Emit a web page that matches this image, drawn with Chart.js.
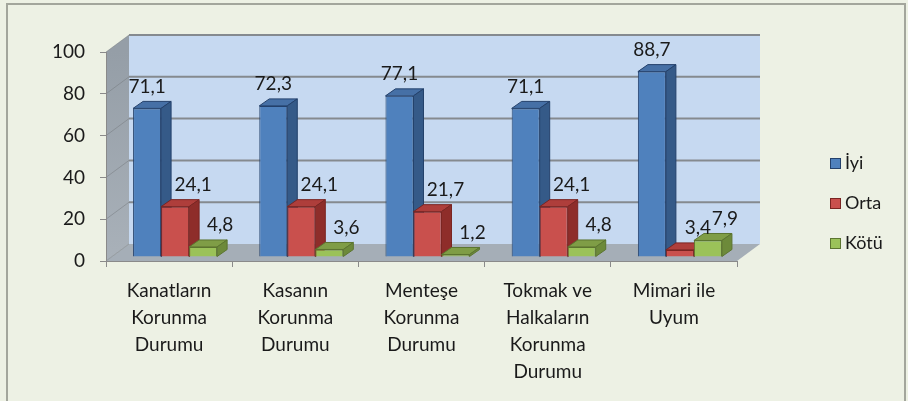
<!DOCTYPE html>
<html lang="tr">

<head>
    <meta charset="UTF-8">
    <title>Kapı Korunma Durumu</title>
    <script src="https://cdn.jsdelivr.net/npm/chart.js@4.4.0/dist/chart.umd.min.js"></script>
    <style>
        html, body { margin: 0; padding: 0; background: #EDF1E4; }
        canvas { display: block; }
    </style>
</head>

<body>
    <canvas id="myChart" width="908" height="401"></canvas>

<script>
    // veriler
    const kategoriler = [
        ['Kanatların', 'Korunma', 'Durumu'],
        ['Kasanın', 'Korunma', 'Durumu'],
        ['Menteşe', 'Korunma', 'Durumu'],
        ['Tokmak ve', 'Halkaların', 'Korunma', 'Durumu'],
        ['Mimari ile', 'Uyum']
    ];
    const iyi = [71.1, 72.3, 77.1, 71.1, 88.7];
    const orta = [24.1, 24.1, 21.7, 24.1, 3.4];
    const kotu = [4.8, 3.6, 1.2, 4.8, 7.9];
    const yTicks = [0, 20, 40, 60, 80, 100];

    const FONT = 'Lato, "Open Sans", sans-serif';

    // 3d derinlik ayarlari
    const wallDX = 23, wallDY = -17;   // arka duvar kaymasi
    const rowDX = 6, rowDY = -4;       // cubuklarin durdugu duzlem
    const barDX = 10, barDY = -7;      // cubuk derinligi

    const bars3d = {
        id: 'bars3d',
        beforeDraw(chart) {
            const ctx = chart.ctx;
            const a = chart.chartArea;
            const y = chart.scales.y;

            ctx.save();
            ctx.fillStyle = '#EDF1E4';
            ctx.fillRect(0, 0, chart.width, chart.height);
            ctx.strokeStyle = '#A3A69C';
            ctx.lineWidth = 2;
            ctx.strokeRect(7, 4, chart.width - 10, chart.height + 4);

            // arka duvar
            ctx.fillStyle = '#C6D9F1';
            ctx.fillRect(a.left + wallDX, a.top + wallDY, a.right - a.left, a.bottom - a.top);

            // sol duvar
            let g = ctx.createLinearGradient(0, a.top, 0, a.bottom);
            g.addColorStop(0, '#959EA7');
            g.addColorStop(1, '#A9B1B9');
            ctx.fillStyle = g;
            ctx.beginPath();
            ctx.moveTo(a.left, a.top);
            ctx.lineTo(a.left + wallDX, a.top + wallDY);
            ctx.lineTo(a.left + wallDX, a.bottom + wallDY);
            ctx.lineTo(a.left, a.bottom);
            ctx.closePath();
            ctx.fill();

            // zemin
            ctx.fillStyle = '#A5AEB7';
            ctx.beginPath();
            ctx.moveTo(a.left, a.bottom);
            ctx.lineTo(a.left + wallDX, a.bottom + wallDY);
            ctx.lineTo(a.right + wallDX, a.bottom + wallDY);
            ctx.lineTo(a.right, a.bottom);
            ctx.closePath();
            ctx.fill();

            // izgara cizgileri
            yTicks.forEach(function (v) {
                const py = y.getPixelForValue(v);
                if (v > 0) {
                    ctx.strokeStyle = '#858A8F';
                    ctx.lineWidth = 2;
                    ctx.beginPath();
                    ctx.moveTo(a.left + wallDX, py + wallDY);
                    ctx.lineTo(a.right + wallDX, py + wallDY);
                    ctx.stroke();
                }
                ctx.strokeStyle = 'rgba(110,115,120,0.45)';
                ctx.lineWidth = 1;
                ctx.beginPath();
                ctx.moveTo(a.left, py);
                ctx.lineTo(a.left + wallDX, py + wallDY);
                ctx.stroke();
            });
            ctx.restore();
        },
        // chart.js kendi sirasiyla cizmesin, asagida kategori kategori cizilir
        beforeDatasetDraw() {
            return false;
        },
        afterDatasetsDraw(chart) {
            const ctx = chart.ctx;
            const sets = chart.data.datasets;

            ctx.save();
            ctx.translate(rowDX, rowDY);

            // her kategori icin soldan saga: on yuz, ust yuz, yan yuz
            chart.data.labels.forEach(function (lbl, j) {
                sets.forEach(function (ds, i) {
                    const bar = chart.getDatasetMeta(i).data[j];
                    bar.draw(ctx);

                    const l = bar.x - bar.width / 2;
                    const r = bar.x + bar.width / 2;
                    const t = bar.y, b = bar.base;
                    ctx.lineWidth = 1;
                    ctx.strokeStyle = ds.borderColor;

                    ctx.fillStyle = ds.topColor;
                    ctx.beginPath();
                    ctx.moveTo(l, t);
                    ctx.lineTo(l + barDX, t + barDY);
                    ctx.lineTo(r + barDX, t + barDY);
                    ctx.lineTo(r, t);
                    ctx.closePath();
                    ctx.fill();
                    ctx.stroke();

                    ctx.fillStyle = ds.sideColor;
                    ctx.beginPath();
                    ctx.moveTo(r, t);
                    ctx.lineTo(r + barDX, t + barDY);
                    ctx.lineTo(r + barDX, b + barDY);
                    ctx.lineTo(r, b);
                    ctx.closePath();
                    ctx.fill();
                    ctx.stroke();
                });
            });

            // deger etiketleri
            ctx.font = '19px ' + FONT;
            ctx.fillStyle = '#1A1A1A';
            ctx.textAlign = 'center';
            ctx.textBaseline = 'middle';
            sets.forEach(function (ds, i) {
                chart.getDatasetMeta(i).data.forEach(function (bar, j) {
                    const txt = ds.data[j].toFixed(1).replace('.', ',');
                    ctx.fillText(txt, bar.x + ds.labelShift, bar.y - 22);
                });
            });
            ctx.restore();

            // lejant
            const a = chart.chartArea;
            ctx.save();
            ctx.font = '18px ' + FONT;
            ctx.textAlign = 'left';
            ctx.textBaseline = 'middle';
            sets.forEach(function (ds, i) {
                const lx = a.right + 93;
                const ly = a.top + 111 + i * 40;
                ctx.fillStyle = ds.backgroundColor;
                ctx.fillRect(lx, ly - 5, 11, 11);
                ctx.strokeStyle = ds.borderColor;
                ctx.lineWidth = 1;
                ctx.strokeRect(lx + 0.5, ly - 4.5, 10, 10);
                ctx.fillStyle = '#1A1A1A';
                ctx.fillText(ds.label, lx + 15, ly);
            });
            ctx.restore();
        }
    };

    const ctx = document.getElementById('myChart');

    new Chart(ctx, {
        type: 'bar',
        data: {
            labels: kategoriler,
            datasets: [{
                label: 'İyi',
                data: iyi,
                backgroundColor: '#4F81BD',
                borderColor: '#24416B',
                topColor: '#4670A6',
                sideColor: '#355A88',
                labelShift: 0
            }, {
                label: 'Orta',
                data: orta,
                backgroundColor: '#C9504D',
                borderColor: '#7A2522',
                topColor: '#AE3E3B',
                sideColor: '#8E2D2A',
                labelShift: 18
            }, {
                label: 'Kötü',
                data: kotu,
                backgroundColor: '#9BC259',
                borderColor: '#5C7530',
                topColor: '#7F9D46',
                sideColor: '#6D8A3A',
                labelShift: 17
            }]
        },
        options: {
            responsive: false,
            animation: false,
            devicePixelRatio: 1,
            layout: {
                padding: { left: 0, top: 52, right: 171, bottom: 0 }
            },
            datasets: {
                bar: {
                    borderWidth: 1,
                    categoryPercentage: 0.666,
                    barPercentage: 1,
                    clip: false
                }
            },
            plugins: {
                legend: { display: false },
                tooltip: { enabled: false }
            },
            scales: {
                x: {
                    afterFit: function (s) { s.height = 140; },
                    border: { color: '#8A8A8A', width: 1 },
                    grid: {
                        drawOnChartArea: false,
                        drawTicks: true,
                        tickLength: 6,
                        color: '#8A8A8A'
                    },
                    ticks: {
                        color: '#1A1A1A',
                        padding: 10,
                        maxRotation: 0,
                        autoSkip: false,
                        font: { family: FONT, size: 19, lineHeight: 1.42 }
                    }
                },
                y: {
                    min: 0,
                    max: 100,
                    afterFit: function (s) { s.width = 106; },
                    afterBuildTicks: function (s) {
                        s.ticks = yTicks.map(function (v) { return { value: v }; });
                    },
                    border: { color: '#8A8A8A', width: 1 },
                    grid: {
                        drawOnChartArea: false,
                        drawTicks: true,
                        tickLength: 6,
                        color: '#8A8A8A'
                    },
                    ticks: {
                        color: '#1A1A1A',
                        padding: 15,
                        font: { family: FONT, size: 19 }
                    }
                }
            }
        },
        plugins: [bars3d]
    });
</script>
</body>

</html>
